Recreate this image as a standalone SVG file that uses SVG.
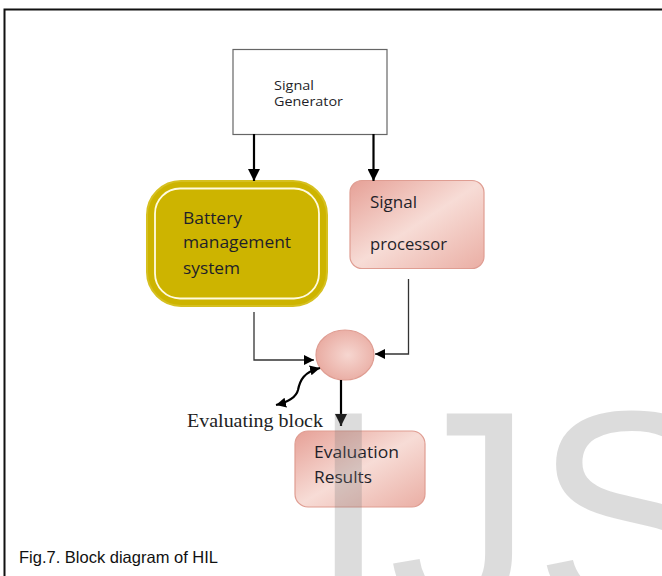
<svg xmlns="http://www.w3.org/2000/svg" width="662" height="576" viewBox="0 0 662 576">
<defs>
<linearGradient id="pink" x1="0" y1="0" x2="1" y2="1">
<stop offset="0" stop-color="#e6a096"/>
<stop offset="0.5" stop-color="#f7dcd6"/>
<stop offset="1" stop-color="#eaaea4"/>
</linearGradient>
<radialGradient id="pinkc" cx="0.55" cy="0.5" r="0.6">
<stop offset="0" stop-color="#f6d6d0"/>
<stop offset="1" stop-color="#e8a89e"/>
</radialGradient>
<marker id="ah" viewBox="0 0 10 10" refX="10" refY="5" markerWidth="10" markerHeight="10" markerUnits="userSpaceOnUse" orient="auto-start-reverse">
<path d="M0,0 L10,5 L0,10 Z" fill="#000"/>
</marker>
<marker id="ahb" viewBox="0 0 10 10" refX="10" refY="5" markerWidth="12" markerHeight="12" markerUnits="userSpaceOnUse" orient="auto">
<path d="M0,0 L10,5 L0,10 Z" fill="#000"/>
</marker>
</defs>
<style>
.cal{font-family:"Open Sans","Noto Sans","DejaVu Sans",sans-serif;fill:#1f1f29;lengthAdjust:spacingAndGlyphs}
.pk{fill:url(#pink);stroke:#df9d92;stroke-width:1.2}
.thin{fill:none;stroke:#333;stroke-width:1.3}
.thick{fill:none;stroke:#000;stroke-width:2.2}
</style>
<rect width="662" height="576" fill="#fff"/>
<path d="M4.5,576 V9.5 H662" fill="none" stroke="#111" stroke-width="2"/>

<g id="signal-generator">
<rect x="233" y="49.5" width="154" height="85" fill="#fff" stroke="#666" stroke-width="1.2"/>
<text class="cal" x="274" y="90" font-size="12.5" textLength="40" lengthAdjust="spacingAndGlyphs" fill="#3a3a48">Signal</text>
<text class="cal" x="274" y="106" font-size="12.5" textLength="69" lengthAdjust="spacingAndGlyphs" fill="#3a3a48">Generator</text>
</g>

<g id="battery-management-system">
<rect x="147" y="181" width="180" height="125" rx="34" fill="#cdb400" stroke="#d6c020" stroke-width="2"/>
<rect x="155" y="188.5" width="164" height="110" rx="25" fill="none" stroke="#fffbe0" stroke-width="1.8"/>
<text class="cal" x="183" y="224" font-size="16" textLength="59" lengthAdjust="spacingAndGlyphs">Battery</text>
<text class="cal" x="183" y="248" font-size="16" textLength="108" lengthAdjust="spacingAndGlyphs">management</text>
<text class="cal" x="183" y="274" font-size="16" textLength="57" lengthAdjust="spacingAndGlyphs">system</text>
</g>

<g id="signal-processor">
<rect class="pk" x="350" y="180.5" width="134" height="88" rx="12"/>
<text class="cal" x="370" y="208" font-size="16" textLength="47" lengthAdjust="spacingAndGlyphs">Signal</text>
<text class="cal" x="370" y="250" font-size="16" textLength="77" lengthAdjust="spacingAndGlyphs">processor</text>
</g>

<g id="evaluating-block">
<ellipse cx="345" cy="355" rx="29" ry="25" fill="url(#pinkc)" stroke="#df9d92" stroke-width="1.2"/>
<text x="187" y="427" font-family="Liberation Serif,serif" font-size="19.5" fill="#222" textLength="136" lengthAdjust="spacingAndGlyphs">Evaluating block</text>
</g>

<g id="evaluation-results">
<rect class="pk" x="295" y="431" width="130" height="76" rx="13"/>
<text class="cal" x="314" y="458" font-size="16" textLength="85" lengthAdjust="spacingAndGlyphs">Evaluation</text>
<text class="cal" x="314" y="483" font-size="16" textLength="58" lengthAdjust="spacingAndGlyphs">Results</text>
</g>

<g id="connectors">
<line class="thick" x1="254" y1="134" x2="254" y2="181" marker-end="url(#ahb)"/>
<line class="thick" x1="373.5" y1="134" x2="373.5" y2="181" marker-end="url(#ahb)"/>
<polyline class="thin" points="254,312 254,360 314,360" marker-end="url(#ah)"/>
<polyline class="thin" points="408.5,279 408.5,354 375,354" marker-end="url(#ah)"/>
<line class="thick" x1="341" y1="380" x2="341" y2="426" stroke-width="1.8" marker-end="url(#ahb)"/>
<path class="thick" stroke-width="1.8" d="M276,405 C288,402 296,398 298,390 C300,380 304,372 320,368" marker-start="url(#ah)" marker-end="url(#ah)"/>
</g>

<text x="19" y="563" font-family="Liberation Sans,Arial,sans-serif" font-size="16.5" fill="#111">Fig.7. Block diagram of HIL</text>
<text x="308" y="613" font-family="Liberation Sans,Arial,sans-serif" font-size="290" fill="#777" fill-opacity="0.26">IJS</text>
</svg>
